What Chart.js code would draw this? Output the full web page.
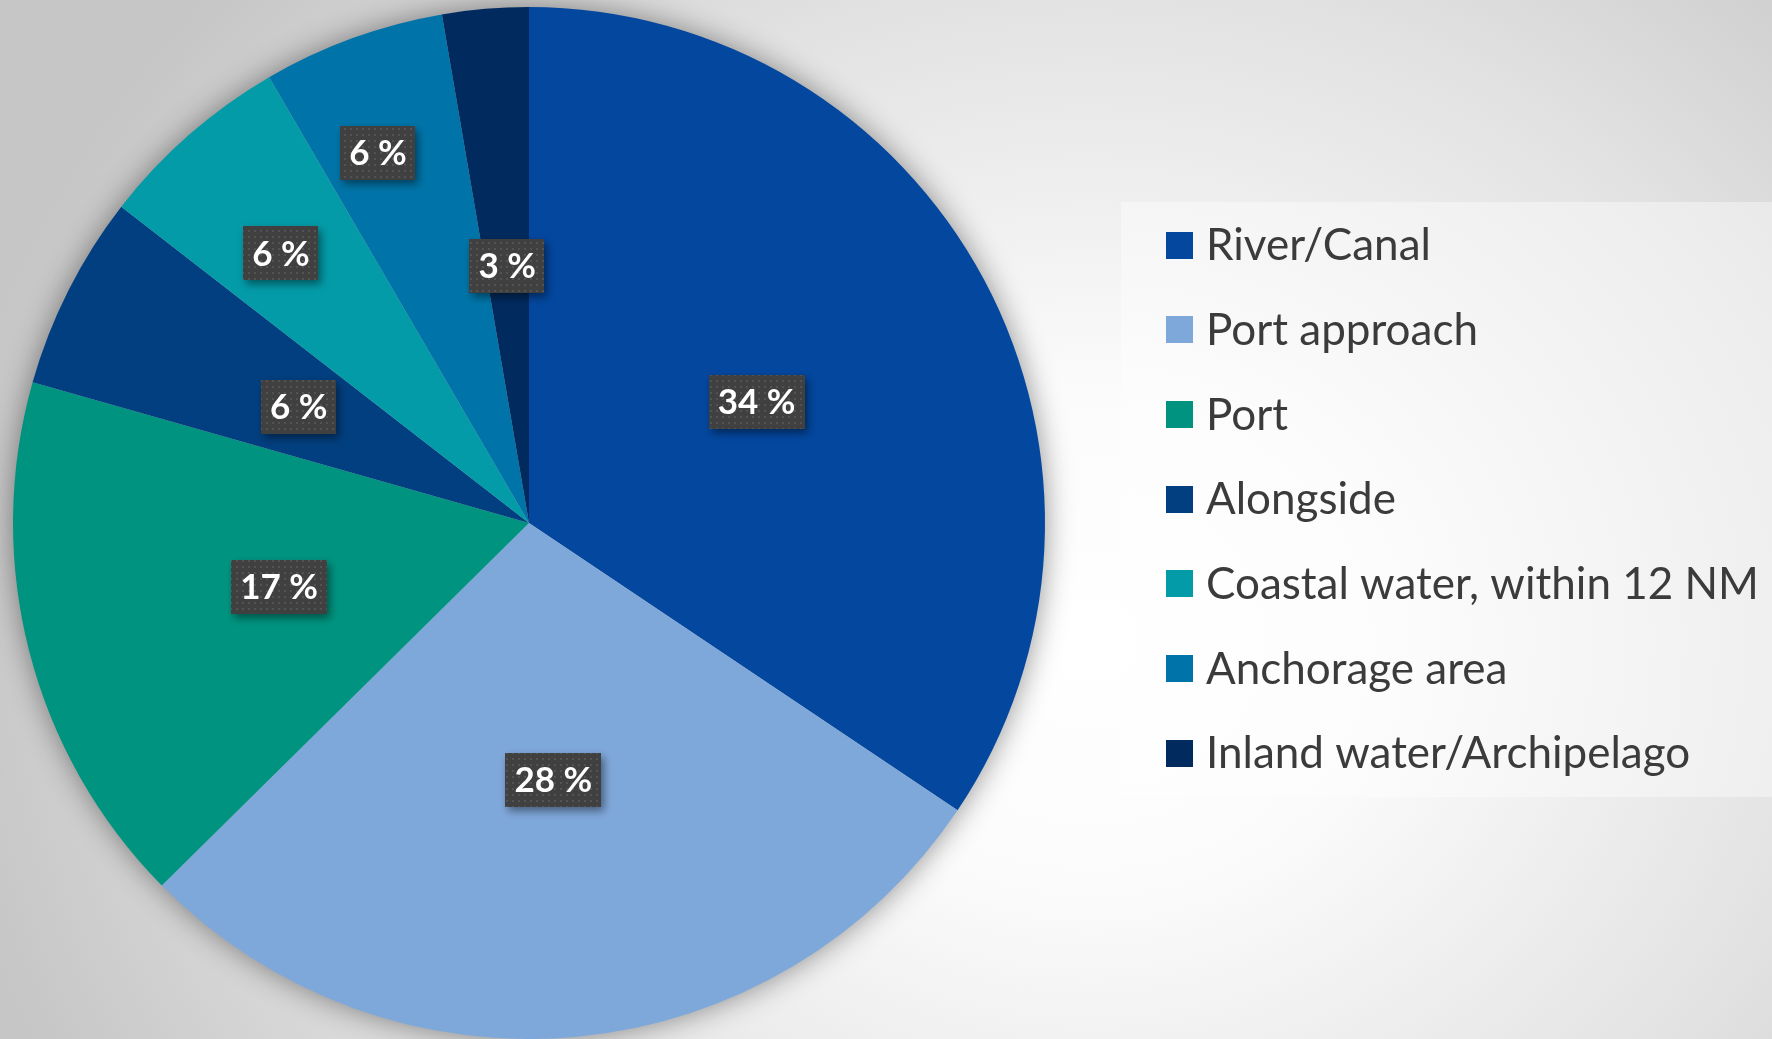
<!DOCTYPE html>
<html>
<head>
<meta charset="utf-8">
<script src="https://cdn.jsdelivr.net/npm/chart.js@4/dist/chart.umd.min.js"></script>
<style>
  html, body { margin: 0; padding: 0; width: 1772px; height: 1039px; overflow: hidden; }
  body { background: radial-gradient(ellipse 1150px 1000px at 1090px 640px, #ffffff 0%, #fbfbfb 25%, #e2e2e2 65%, #c6c6c6 100%); }
  #wrap { position: absolute; left: 0; top: 0; width: 1772px; height: 1039px; }
</style>
</head>
<body>
<div id="wrap"><canvas id="c" width="1772" height="1039"></canvas></div>
<script>
const categories = ["River/Canal", "Port approach", "Port", "Alongside", "Coastal water, within 12 NM", "Anchorage area", "Inland water/Archipelago"];
const shares = [34.4, 28.2, 16.8, 6.1, 6.1, 5.7, 2.7];
const sliceColors = ["#03479F", "#7FA8DA", "#009480", "#023F80", "#039BA8", "#0074A8", "#012A5E"];
const labelRadiusFactor = [0.5, 0.5, 0.5, 0.5, 0.71, 0.775, 0.5];
const labelAngleShiftDeg = [0, 0, 0, 0, -1.4, -2.2, 0];

function dotPattern(ctx) {
  const p = document.createElement('canvas');
  p.width = 6; p.height = 6;
  const pc = p.getContext('2d');
  pc.fillStyle = '#404040'; pc.fillRect(0, 0, 6, 6);
  pc.fillStyle = '#535353'; pc.fillRect(2, 2, 2, 2);
  return ctx.createPattern(p, 'repeat');
}

const pieShadow = {
  id: 'pieShadow',
  beforeDatasetsDraw(chart) {
    const arc = chart.getDatasetMeta(0).data[0];
    if (!arc) return;
    const ctx = chart.ctx;
    ctx.save();
    ctx.shadowColor = 'rgba(0,0,0,0.45)';
    ctx.shadowBlur = 30;
    ctx.fillStyle = '#c0c0c0';
    ctx.beginPath();
    ctx.arc(arc.x, arc.y, arc.outerRadius - 1, 0, Math.PI * 2);
    ctx.fill();
    ctx.restore();
  }
};

const boxLabels = {
  id: 'boxLabels',
  afterDatasetsDraw(chart) {
    const ctx = chart.ctx;
    const meta = chart.getDatasetMeta(0);
    const pat = dotPattern(ctx);
    ctx.save();
    ctx.font = 'bold 35px Lato';
    ctx.textAlign = 'center';
    ctx.textBaseline = 'middle';
    meta.data.forEach((arc, i) => {
      const mid = (arc.startAngle + arc.endAngle) / 2 + labelAngleShiftDeg[i] * Math.PI / 180;
      const r = arc.outerRadius * labelRadiusFactor[i];
      const x = arc.x + Math.cos(mid) * r;
      const y = arc.y + Math.sin(mid) * r;
      const txt = Math.round(shares[i]) + ' %';
      const w = ctx.measureText(txt).width + 18;
      const h = 54;
      ctx.save();
      ctx.shadowColor = 'rgba(0,0,0,0.45)';
      ctx.shadowBlur = 8;
      ctx.shadowOffsetX = 3;
      ctx.shadowOffsetY = 4;
      ctx.fillStyle = pat;
      ctx.fillRect(Math.round(x - w / 2), Math.round(y - h / 2), Math.round(w), h);
      ctx.restore();
      ctx.fillStyle = '#ffffff';
      ctx.fillText(txt, x, y + 1);
    });
    ctx.restore();
  }
};

const sideLegend = {
  id: 'sideLegend',
  afterDraw(chart) {
    const ctx = chart.ctx;
    ctx.save();
    ctx.fillStyle = 'rgba(255,255,255,0.4)';
    ctx.fillRect(1121, 202, 651, 595);
    ctx.font = '44px Lato';
    ctx.textAlign = 'left';
    ctx.textBaseline = 'middle';
    chart.data.labels.forEach((lab, i) => {
      const cy = 245 + i * 84.7;
      ctx.fillStyle = chart.data.datasets[0].backgroundColor[i];
      ctx.fillRect(1166, Math.round(cy - 13.5), 27, 27);
      ctx.fillStyle = '#3b3b3b';
      ctx.fillText(lab, 1206, cy + 1);
    });
    ctx.restore();
  }
};

new Chart(document.getElementById('c'), {
  type: 'pie',
  data: {
    labels: categories,
    datasets: [{
      data: shares,
      backgroundColor: sliceColors,
      borderWidth: 0
    }]
  },
  options: {
    responsive: false,
    animation: false,
    layout: { padding: { left: 13, right: 727, top: 7, bottom: 0 } },
    plugins: {
      legend: { display: false },
      tooltip: { enabled: false }
    }
  },
  plugins: [pieShadow, boxLabels, sideLegend]
});
</script>
</body>
</html>
